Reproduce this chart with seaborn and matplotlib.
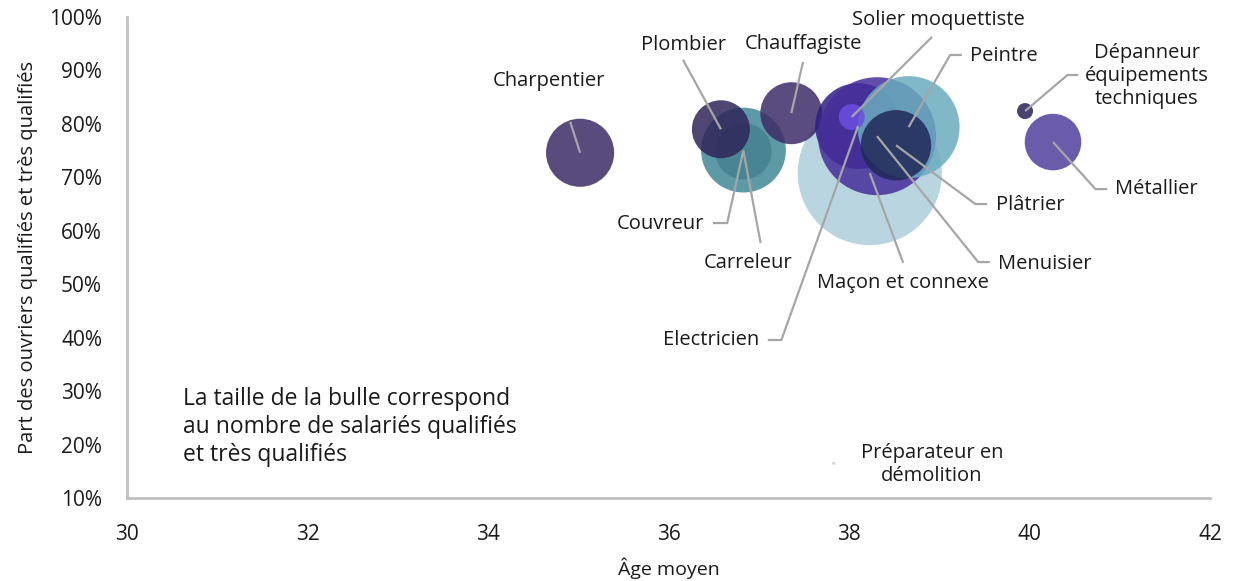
import matplotlib
matplotlib.use("Agg")
import matplotlib.pyplot as plt
import seaborn as sns
import pandas as pd

# ---------------- data ----------------
metiers = ["Maçon et connexe", "Couvreur", "Carreleur", "Plombier", "Chauffagiste",
           "Electricien", "Menuisier", "Peintre", "Plâtrier", "Solier moquettiste",
           "Charpentier", "Métallier", "Dépanneur équipements techniques",
           "Préparateur en démolition"]
age_moyen = [38.23, 36.83, 36.83, 36.58, 37.36,
             38.10, 38.31, 38.66, 38.52, 38.03,
             35.02, 40.26, 39.95, 37.83]
part_qualifies = [70.8, 75.1, 74.9, 79.0, 82.0,
                  79.6, 77.7, 79.4, 76.0, 81.3,
                  74.6, 76.6, 82.4, 16.5]
effectifs = [130000, 45000, 20000, 21000, 24000,
             46000, 87000, 65000, 31000, 4200,
             29000, 20000, 1600, 60]

couleurs = ["#ADCEDB", "#428896", "#45828F", "#302559", "#3D2C67",
            "#2E1F85", "#452E9B", "#6AACBE", "#202858", "#6A50E0",
            "#3B2C66", "#503F9B", "#2A2257", "#C0CFD7"]

df = pd.DataFrame({"metier": metiers, "age": age_moyen,
                   "part": part_qualifies, "effectif": effectifs})

# label text positions (data coords) and leader-line vertices (from label to bubble)
label_pos = {
    "Charpentier": (34.68, 88.0, "Charpentier", [(34.91, 80.4)]),
    "Plombier": (36.17, 94.8, "Plombier", [(36.16, 92.0)]),
    "Chauffagiste": (37.49, 94.95, "Chauffagiste", [(37.49, 91.6)]),
    "Solier moquettiste": (38.99, 99.4, "Solier moquettiste", [(38.92, 96.3)]),
    "Peintre": (39.72, 92.7, "Peintre", [(39.25, 92.9), (39.12, 92.9)]),
    "Dépanneur équipements techniques": (41.30, 88.96, "Dépanneur\néquipements\ntechniques",
                                         [(40.54, 89.15), (40.42, 89.15)]),
    "Métallier": (41.40, 67.8, "Métallier", [(40.86, 67.8), (40.73, 67.8)]),
    "Plâtrier": (40.01, 64.8, "Plâtrier", [(39.53, 65.0), (39.40, 65.0)]),
    "Menuisier": (40.17, 53.8, "Menuisier", [(39.56, 54.15), (39.43, 54.15)]),
    "Maçon et connexe": (38.60, 50.2, "Maçon et connexe", [(38.60, 54.0)]),
    "Electricien": (36.47, 39.56, "Electricien", [(37.10, 39.56), (37.25, 39.56)]),
    "Couvreur": (35.91, 61.3, "Couvreur", [(36.49, 61.45), (36.65, 61.45)]),
    "Carreleur": (36.88, 54.0, "Carreleur", [(37.02, 57.7)]),
    "Préparateur en démolition": (38.92, 16.35, "Préparateur en\ndémolition", []),
}

# ---------------- plot ----------------
sns.set_style("white")
plt.rcParams["font.family"] = ["Open Sans", "DejaVu Sans"]

fig = plt.figure(figsize=(12.43, 5.81), dpi=100)
ax = fig.add_axes([0.1022, 0.1429, 0.8713, 0.8278])

smax = 130000 * 0.0829
sns.scatterplot(data=df, x="age", y="part", hue="metier", size="effectif",
                palette=dict(zip(metiers, couleurs)), sizes=(0, smax),
                size_norm=(0, 130000), alpha=0.85, linewidth=0,
                legend=False, ax=ax, zorder=2)

ax.set_xlim(30, 42)
ax.set_ylim(10, 100)
ax.set_xticks([30, 32, 34, 36, 38, 40, 42])
ax.set_yticks(range(10, 101, 10))
ax.set_yticklabels([f"{v}%" for v in range(10, 101, 10)])
ax.tick_params(axis="both", length=0, labelsize=15, colors="#1a1a1a")
ax.tick_params(axis="y", pad=18)
ax.tick_params(axis="x", pad=19)

for s in ["top", "right"]:
    ax.spines[s].set_visible(False)
for s in ["left", "bottom"]:
    ax.spines[s].set_color("#BFBFBF")
    ax.spines[s].set_linewidth(2)

ax.set_xlabel("Âge moyen", fontsize=14, labelpad=9, color="#1a1a1a")
ax.set_ylabel("Part des ouvriers qualifiés et très qualifiés", fontsize=14.5,
              labelpad=8, color="#1a1a1a")

for m, x0, y0 in zip(metiers, age_moyen, part_qualifies):
    tx, ty, txt, verts = label_pos[m]
    ax.text(tx, ty, txt, ha="center", va="center", fontsize=14.5,
            color="#1a1a1a", linespacing=1.2, clip_on=False, zorder=5)
    if verts:
        xs = [v[0] for v in verts] + [x0]
        ys = [v[1] for v in verts] + [y0]
        ax.plot(xs, ys, color="#A6A6A6", lw=1.6, zorder=4, clip_on=False,
                solid_capstyle="butt")

ax.text(30.62, 30.7, "La taille de la bulle correspond\nau nombre de salariés qualifiés\net très qualifiés",
        ha="left", va="top", fontsize=16.5, color="#1a1a1a", linespacing=1.22)

fig.savefig("out.png", dpi=100)
